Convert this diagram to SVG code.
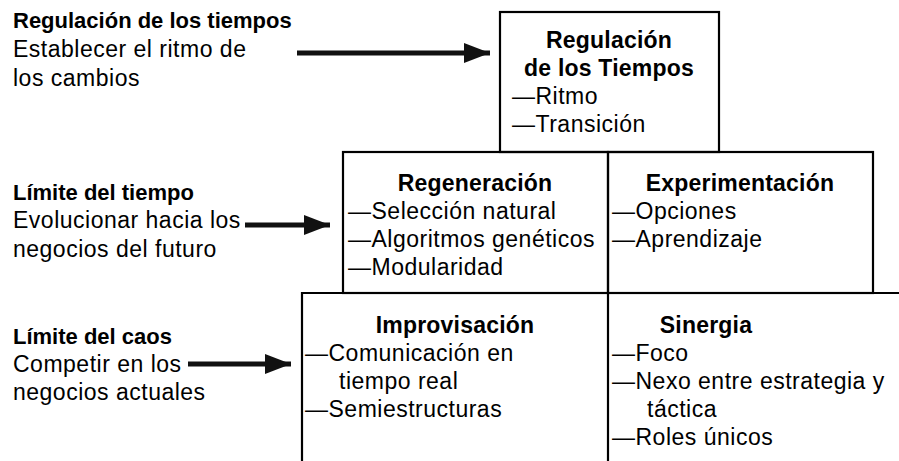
<svg xmlns="http://www.w3.org/2000/svg" width="899" height="461" viewBox="0 0 899 461">
<defs>
<marker id="ah" viewBox="0 0 10 10" refX="10" refY="5" markerWidth="5.2" markerHeight="4" markerUnits="strokeWidth" orient="auto" preserveAspectRatio="none">
<path d="M0,0 L10,5 L0,10 Z" fill="#111"/>
</marker>
<style>
text{font-family:"Liberation Sans",Arial,sans-serif;font-size:23px;letter-spacing:0.5px;fill:#000}
.b{font-weight:bold;font-size:22px;letter-spacing:0}
.h{font-weight:bold;font-size:23px;letter-spacing:0.2px;text-anchor:middle}
.box{fill:none;stroke:#000;stroke-width:2.2}
.arr{stroke:#111;stroke-width:5;fill:none;marker-end:url(#ah)}
</style>
</defs>
<rect width="899" height="461" fill="#fff"/>
<g id="lbl-regulacion">
<text class="b" x="13" y="28">Regulación de los tiempos</text>
<text x="13" y="57">Establecer el ritmo de</text>
<text x="13" y="86">los cambios</text>
</g>
<g id="lbl-tiempo">
<text class="b" x="13" y="200">Límite del tiempo</text>
<text x="13" y="228">Evolucionar hacia los</text>
<text x="13" y="257">negocios del futuro</text>
</g>
<g id="lbl-caos">
<text class="b" x="13" y="344">Límite del caos</text>
<text x="13" y="372">Competir en los</text>
<text x="13" y="400">negocios actuales</text>
</g>
<g id="connectors">
<line class="arr" x1="297" y1="53" x2="490" y2="53"/>
<line class="arr" x1="245" y1="225" x2="330" y2="225"/>
<line class="arr" x1="188" y1="364" x2="291" y2="364"/>
</g>
<g id="node-regulacion">
<rect class="box" x="500" y="12" width="219" height="140"/>
<text class="h" x="609" y="48">Regulación</text>
<text class="h" x="609" y="76">de los Tiempos</text>
<text x="512" y="104">—Ritmo</text>
<text x="512" y="132">—Transición</text>
</g>
<g id="node-regeneracion">
<rect class="box" x="343" y="152" width="265" height="141"/>
<text class="h" x="475" y="191">Regeneración</text>
<text x="348" y="219">—Selección natural</text>
<text x="348" y="247">—Algoritmos genéticos</text>
<text x="348" y="275">—Modularidad</text>
</g>
<g id="node-experimentacion">
<rect class="box" x="608" y="152" width="265" height="141"/>
<text class="h" x="740" y="191">Experimentación</text>
<text x="612" y="219">—Opciones</text>
<text x="612" y="247">—Aprendizaje</text>
</g>
<g id="node-improvisacion">
<path class="box" d="M302,462 V293 H608"/>
<text class="h" x="455" y="333">Improvisación</text>
<text x="305" y="361">—Comunicación en</text>
<text x="339" y="389">tiempo real</text>
<text x="305" y="417">—Semiestructuras</text>
</g>
<g id="node-sinergia">
<path class="box" d="M608,462 V293 H900"/>
<text class="h" x="706" y="333">Sinergia</text>
<text x="612" y="361">—Foco</text>
<text x="612" y="389">—Nexo entre estrategia y</text>
<text x="647" y="417">táctica</text>
<text x="612" y="445">—Roles únicos</text>
</g>
</svg>
